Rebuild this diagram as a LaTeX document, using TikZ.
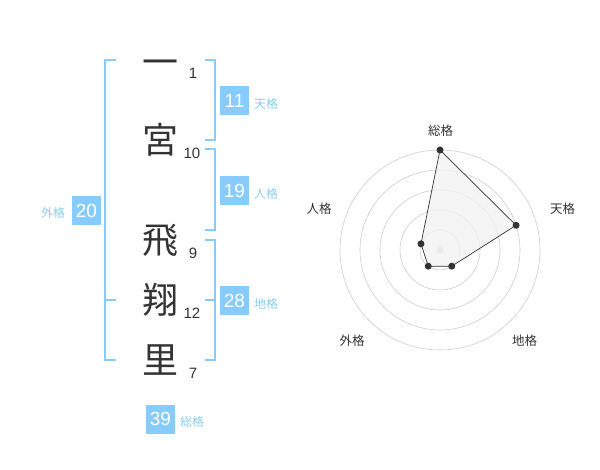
\documentclass[tikz,border=0pt]{standalone}
\usepackage{fontspec}
\setmainfont{Liberation Sans}
\newfontfamily\jp{Noto Sans CJK JP}
\usetikzlibrary{positioning}

\definecolor{kakublue}{HTML}{88CCFF}
\definecolor{kakutext}{HTML}{8ACDF5}
\definecolor{inkdark}{HTML}{333333}
\definecolor{ringgray}{HTML}{CCCCCC}
\definecolor{areafill}{HTML}{F2F2F2}

\begin{document}
\begin{tikzpicture}[
  x=1pt, y=-1pt,
  every node/.style={inner sep=0pt, outer sep=0pt},
  kanji/.style={font=\jp\fontsize{36}{36}\selectfont, text=inkdark, text height=31.7pt, text depth=4.3pt},
  strokes/.style={font=\fontsize{15}{15}\selectfont, text=inkdark},
  kakubox/.style={fill=kakublue, minimum size=29pt, text=white, font=\fontsize{19}{19}\selectfont},
  kakulabel/.style={font=\jp\fontsize{12}{12}\selectfont, text=kakutext, text height=10.6pt, text depth=1.4pt},
  bracket/.style={draw=kakublue, line width=1.6pt},
  axislabel/.style={font=\jp\fontsize{12.5}{12.5}\selectfont, text=inkdark, text height=11pt, text depth=1.5pt},
  ring/.style={draw=ringgray, line width=0.6pt},
  dot/.style={fill=inkdark}
]
\useasboundingbox (0,0) rectangle (600,470);

% name characters
\node (c1) [kanji] at (160,62) {一};
\node (c2) [kanji] at (160,140) {宮};
\node (c3) [kanji] at (160,240) {飛};
\node (c4) [kanji] at (160,300) {翔};
\node (c5) [kanji] at (160,360) {里};

% stroke counts
\node (s1) [strokes] at (193,73) {1};
\node (s2) [strokes] at (192,153) {10};
\node (s3) [strokes] at (193,253) {9};
\node (s4) [strokes] at (192,313) {12};
\node (s5) [strokes] at (193,373) {7};

% brackets
\draw[bracket] (116,60) -- (105,60) -- (105,360) -- (116,360);
\draw[bracket] (105,300) -- (116,300);
\draw[bracket] (205,60) -- (215,60) -- (215,140) -- (205,140);
\draw[bracket] (205,149) -- (215,149) -- (215,230) -- (205,230);
\draw[bracket] (205,240) -- (215,240) -- (215,360) -- (205,360);
\draw[bracket] (205,300) -- (215,300);

% kaku values
\node (gai) [kakubox] at (86.5,210.5) {20};
\node (ten) [kakubox] at (234.5,100.5) {11};
\node (jin) [kakubox] at (234.5,190.5) {19};
\node (chi) [kakubox] at (234.5,300.5) {28};
\node (sou) [kakubox] at (160.5,419) {39};

\node (gailbl) [kakulabel, left=7pt of gai, yshift=-2pt] {外格};
\node (tenlbl) [kakulabel, right=5pt of ten, yshift=-3pt] {天格};
\node (jinlbl) [kakulabel, right=5pt of jin, yshift=-3pt] {人格};
\node (chilbl) [kakulabel, right=5pt of chi, yshift=-3pt] {地格};
\node (soulbl) [kakulabel, right=5pt of sou, yshift=-3pt] {総格};

% radar chart
\begin{scope}[shift={(440,250)}, yscale=-1]
  \foreach \r in {20,40,60,80,100}
    \draw[ring] (0,0) circle (\r);
  \fill[ringgray] (0,0) circle (3.5);
  \coordinate (psou) at (90:100);
  \coordinate (pten) at (18:80);
  \coordinate (pchi) at (-54:20);
  \coordinate (pgai) at (-126:20);
  \coordinate (pjin) at (162:20);
  \filldraw[fill=areafill, fill opacity=0.8, draw=inkdark, line width=0.7pt]
    (psou) -- (pten) -- (pchi) -- (pgai) -- (pjin) -- cycle;
  \foreach \p in {psou,pten,pchi,pgai,pjin}
    \fill[dot] (\p) circle (3.5);
\end{scope}

\node (asou) [axislabel] at (440.5,131) {総格};
\node (aten) [axislabel] at (562.5,209) {天格};
\node (achi) [axislabel] at (524.5,341) {地格};
\node (agai) [axislabel] at (352,341) {外格};
\node (ajin) [axislabel] at (319,209) {人格};

\end{tikzpicture}
\end{document}
